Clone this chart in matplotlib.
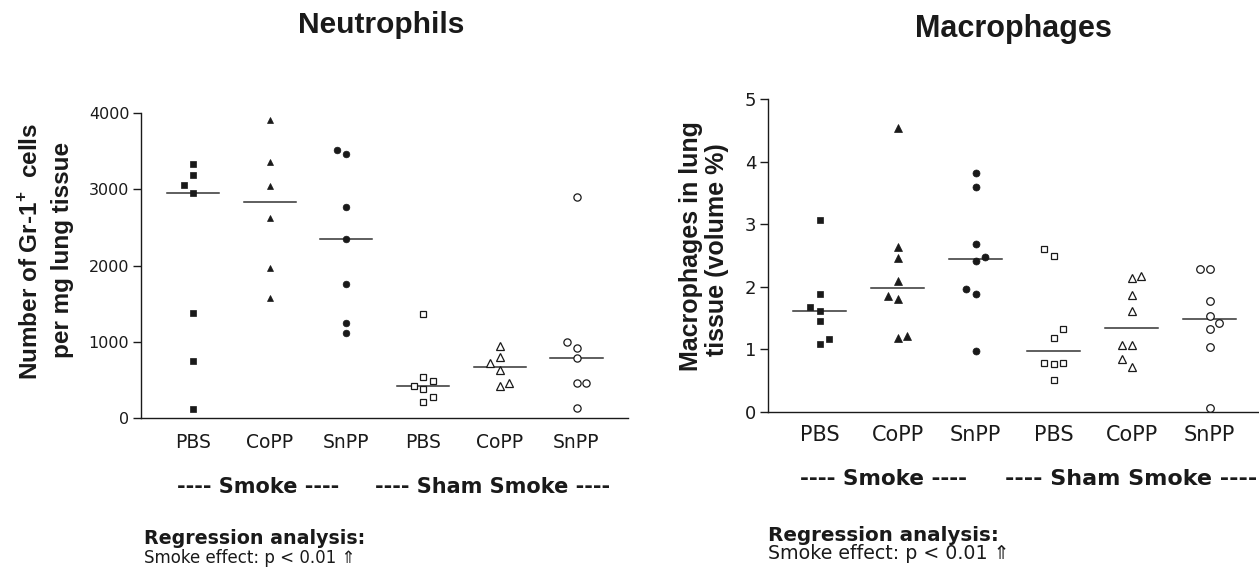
#%% imports
import numpy as np
import matplotlib.pyplot as plt

plt.rcParams['font.family'] = ['DejaVu Sans']
plt.rcParams['mathtext.fontset'] = 'custom'
plt.rcParams['mathtext.rm'] = 'Liberation Sans'
plt.rcParams['mathtext.bf'] = 'Liberation Sans:bold'

#%% data
categories = ['PBS', 'CoPP', 'SnPP', 'PBS', 'CoPP', 'SnPP']

# neutrophils: Gr-1+ cells per mg lung tissue
neu_smoke_pbs = [3335, 3187, 2948, 3057, 1383, 748, 122]
neu_smoke_copp = [3913, 3361, 3039, 2626, 1970, 1570]
neu_smoke_snpp = [3457, 3509, 2770, 2344, 1752, 1252, 1117]
neu_sham_pbs = [1361, 535, 378, 209, 422, 274, 487]
neu_sham_copp = [945, 801, 623, 418, 723, 454]
neu_sham_snpp = [2900, 919, 788, 454, 127, 993, 454]

# macrophages: volume % of lung tissue
mac_smoke_pbs = [3.06, 1.89, 1.62, 1.45, 1.09, 1.67, 1.17]
mac_smoke_copp = [4.53, 2.64, 2.46, 2.09, 1.81, 1.19, 1.86, 1.21]
mac_smoke_snpp = [3.81, 3.59, 2.69, 2.42, 1.89, 0.97, 1.96, 2.48]
mac_sham_pbs = [2.49, 1.18, 0.77, 0.51, 2.60, 1.33, 0.78, 0.78]
mac_sham_copp = [2.14, 1.87, 1.62, 1.07, 0.72, 1.07, 2.18, 0.85]
mac_sham_snpp = [2.29, 1.78, 1.54, 1.32, 1.04, 0.06, 2.29, 1.42]

neu_ticks = [0, 1000, 2000, 3000, 4000]
mac_ticks = [0, 1, 2, 3, 4, 5]

neu_groups = [neu_smoke_pbs, neu_smoke_copp, neu_smoke_snpp,
              neu_sham_pbs, neu_sham_copp, neu_sham_snpp]
mac_groups = [mac_smoke_pbs, mac_smoke_copp, mac_smoke_snpp,
              mac_sham_pbs, mac_sham_copp, mac_sham_snpp]

markers = ['s', '^', 'o', 's', '^', 'o']
filled = [True, True, True, False, False, False]
msizes = {'s': 4.4, '^': 5.0, 'o': 4.8}

#%% figure layout (pixels of a 1259 x 567 picture)
W, H = 1259, 567
ink = '#1a1a1a'

def fx(px):
    return px / W

def fy(py):
    return 1 - py / H

def rect(x0, x1, y0, y1):
    return [fx(x0), fy(y1), (x1 - x0) / W, (y1 - y0) / H]

#%% functions
def dodge(ax, values, spread_px=9.5, gap_px=9.6):
    # points that would overlap are pushed to the side, alternating left/right
    p0 = ax.transData.transform((0, 0))
    p1 = ax.transData.transform((1, 1))
    px_x = p1[0] - p0[0]
    px_y = p1[1] - p0[1]
    cols = {}
    side = -1
    offsets = []
    for v in values:
        y = v * px_y

        def free(c):
            return all(abs(y - other) >= gap_px for other in cols.get(c, []))

        col = 0
        if not free(0):
            col = None
            for k in (1, 2, 3):
                for cand in (side * k, -side * k):
                    if free(cand):
                        col = cand
                        break
                if col is not None:
                    break
            side = -int(np.sign(col))
        cols.setdefault(col, []).append(y)
        offsets.append(col * spread_px / px_x)
    return np.array(offsets)


def draw_panel(ax, groups, xlim, yticks, fs_tick, fs_cat, cat_pad, ms_scale):
    ax.set_xlim(xlim)
    ax.set_ylim(yticks[0], yticks[-1])
    for i, vals in enumerate(groups):
        vals = np.array(vals)
        xs = i + dodge(ax, vals)
        m = markers[i]
        if filled[i]:
            ax.plot(xs, vals, m, ms=msizes[m] * ms_scale, color=ink,
                    mec=ink, mew=0.5, clip_on=False, zorder=3)
        else:
            ax.plot(xs, vals, m, ms=msizes[m] * ms_scale + 0.4, mfc='white',
                    mec=ink, mew=0.9, clip_on=False, zorder=3)
        med = np.median(vals)
        ax.plot([i - 0.34, i + 0.34], [med, med], color='#333333', lw=1.1,
                zorder=2)
    for s in ['top', 'right']:
        ax.spines[s].set_visible(False)
    for s in ['left', 'bottom']:
        ax.spines[s].set_linewidth(1.0)
        ax.spines[s].set_color(ink)
    ax.set_yticks(yticks)
    ax.set_xticks(range(len(categories)), categories)
    ax.tick_params(axis='y', direction='out', length=6, width=1.0,
                   color=ink, pad=2.4, labelsize=fs_tick, labelcolor=ink)
    ax.tick_params(axis='x', length=0, pad=cat_pad, labelsize=fs_cat,
                   labelcolor=ink)


#%% plot
fig = plt.figure(figsize=(W / 100, H / 100), dpi=100)

ax1 = fig.add_axes(rect(141, 628, 113, 418))
draw_panel(ax1, neu_groups, ((141 - 193) / 76.7, (628 - 193) / 76.7),
           neu_ticks, 11.5, 13.5, 10.8, 1.0)

ax2 = fig.add_axes(rect(768, 1259, 99, 412))
draw_panel(ax2, mac_groups, ((768 - 819.6) / 78.0, (1259 - 819.6) / 78.0),
           mac_ticks, 13, 15, 9.6, 1.05)

# titles
fig.text(fx(381), fy(33), 'Neutrophils', ha='center', va='baseline',
         fontsize=21.5, weight='bold', family='Liberation Sans', color=ink)
fig.text(fx(1013), fy(37), 'Macrophages', ha='center', va='baseline',
         fontsize=22, weight='bold', family='Liberation Sans', color=ink)

# y labels, two lines each
fig.text(fx(31), fy(251), r'Number of Gr-1$^{\mathbf{+}}$  cells', rotation=90,
         ha='center', va='center', fontsize=17.5, weight='bold',
         family='Liberation Sans', color=ink)
fig.text(fx(62), fy(250), 'per mg lung tissue', rotation=90,
         ha='center', va='center', fontsize=17.5, weight='bold',
         family='Liberation Sans', color=ink)
fig.text(fx(691), fy(246), 'Macrophages in lung', rotation=90,
         ha='center', va='center', fontsize=18, weight='bold',
         family='Liberation Sans', color=ink)
fig.text(fx(717), fy(250), 'tissue (volume %)', rotation=90,
         ha='center', va='center', fontsize=18, weight='bold',
         family='Liberation Sans', color=ink)

# group captions under the categories
fig.text(fx(177), fy(493), '---- Smoke ----', ha='left', va='baseline',
         fontsize=15, weight='bold', color=ink)
fig.text(fx(375), fy(493), '---- Sham Smoke ----', ha='left', va='baseline',
         fontsize=15, weight='bold', color=ink)
fig.text(fx(800), fy(485), '---- Smoke ----', ha='left', va='baseline',
         fontsize=15.5, weight='bold', color=ink)
fig.text(fx(1005), fy(485), '---- Sham Smoke ----', ha='left', va='baseline',
         fontsize=16, weight='bold', color=ink)

# regression notes
fig.text(fx(144), fy(544), 'Regression analysis:', ha='left', va='baseline',
         fontsize=13.7, weight='bold', color=ink)
fig.text(fx(144), fy(563), 'Smoke effect: p < 0.01 \u21d1', ha='left',
         va='baseline', fontsize=12, color=ink)
fig.text(fx(768), fy(541), 'Regression analysis:', ha='left', va='baseline',
         fontsize=14.3, weight='bold', color=ink)
fig.text(fx(768), fy(559), 'Smoke effect: p < 0.01 \u21d1', ha='left',
         va='baseline', fontsize=13.7, color=ink)

fig.savefig('out.png', dpi=100)
